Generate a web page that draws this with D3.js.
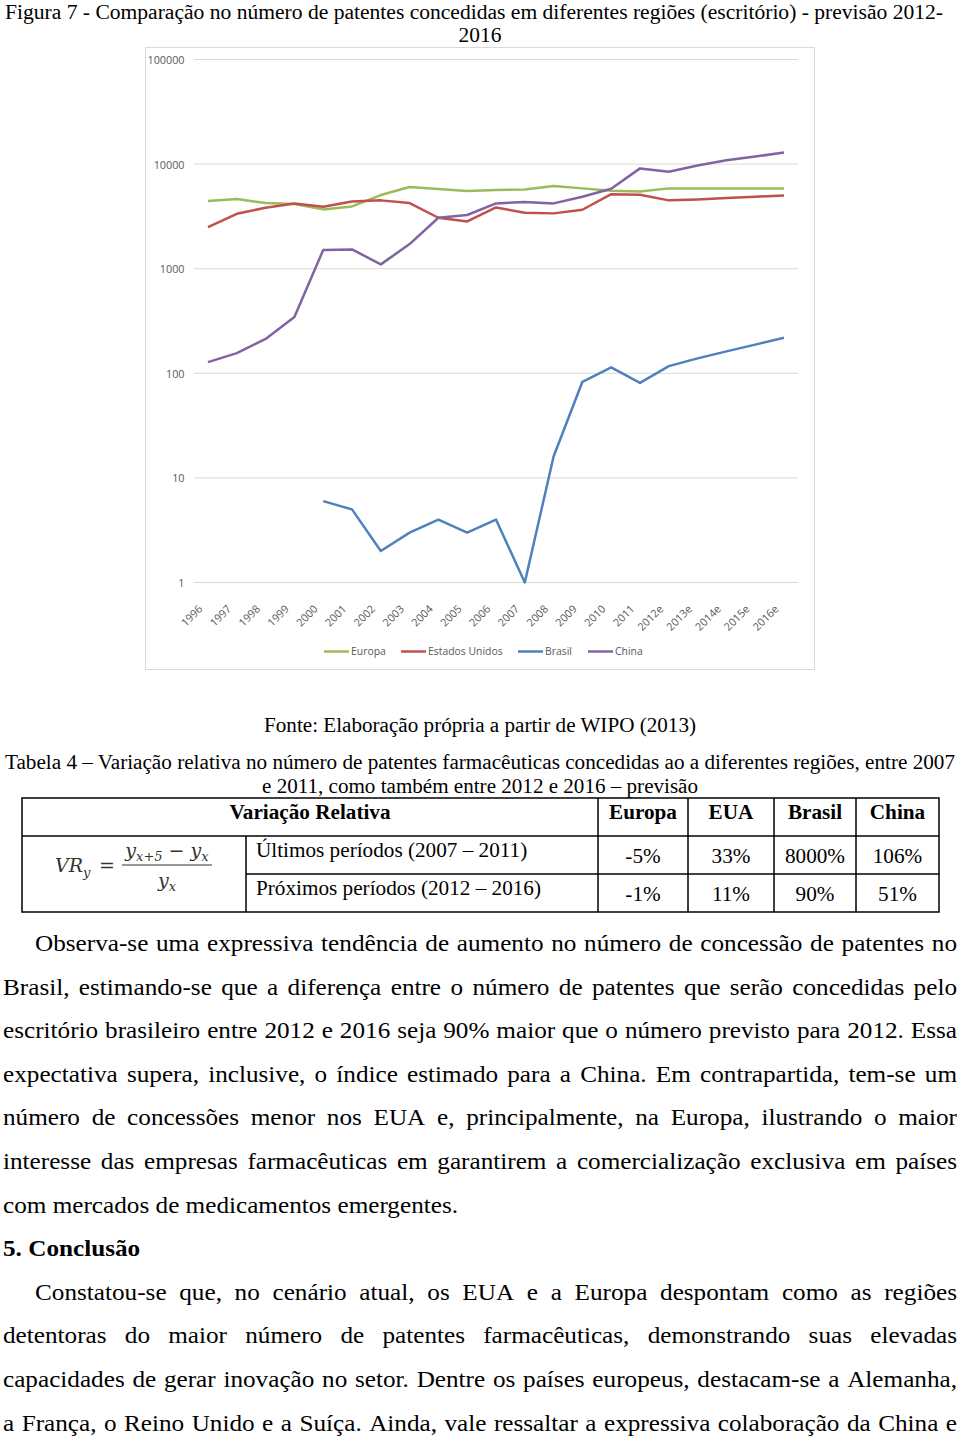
<!DOCTYPE html>
<html><head><meta charset="utf-8">
<script src="https://cdn.jsdelivr.net/npm/d3@7"></script>
<style>body{margin:0;background:#fff}svg{display:block}</style>
</head><body>
<script>
const years = ["1996","1997","1998","1999","2000","2001","2002","2003","2004","2005","2006","2007","2008","2009","2010","2011","2012e","2013e","2014e","2015e","2016e"];
const europa = [4430,4640,4240,4150,3690,3940,5060,6030,5770,5520,5650,5730,6170,5860,5560,5480,5860,5860,5860,5860,5860];
const estadosUnidos = [2500,3350,3830,4210,3910,4390,4500,4240,3070,2830,3850,3430,3380,3660,5160,5090,4500,4590,4730,4870,5020];
const brasil = [null,null,null,null,6,5,2,3,4,3,4,1,16,83,114,81,117,139,162,188,219];
const china = [128,156,213,345,1510,1530,1100,1720,3070,3260,4210,4330,4210,4880,5810,9100,8450,9710,10900,11800,12900];
const seriesNames = ["Europa","Estados Unidos","Brasil","China"];
const yTicks = [1,10,100,1000,10000,100000];

const tableHeader = ["Variação Relativa","Europa","EUA","Brasil","China"];
const rowLabels = ["Últimos períodos (2007 – 2011)","Próximos períodos (2012 – 2016)"];
const rowEuropa = ["-5%","-1%"];
const rowEUA = ["33%","11%"];
const rowBrasil = ["8000%","90%"];
const rowChina = ["106%","51%"];

const colors = ["#9bbb59","#c0504d","#4f81bd","#8064a2"];
const W = 960, H = 1438;
const svg = d3.select("body").append("svg").attr("width",W).attr("height",H);
svg.append("rect").attr("width",W).attr("height",H).attr("fill","#fff");

const serif = "'Liberation Serif','Times New Roman',serif";
const sans = "'Open Sans','Liberation Sans',sans-serif";

function fitText(txt, x, y, width, size, anchor, weight, stretch){
  const t = svg.append("text").attr("x",x).attr("y",y).attr("font-family",serif)
    .attr("font-size",size).attr("fill","#000").attr("text-anchor",anchor||"start")
    .attr("font-weight",weight||"normal").text(txt);
  let w = width;
  if(!w && stretch){ w = t.node().getComputedTextLength()*stretch; }
  if(w){ t.attr("textLength",w).attr("lengthAdjust","spacingAndGlyphs"); }
  return t;
}

// Title
fitText("Figura 7 - Comparação no número de patentes concedidas em diferentes regiões (escritório) -  previsão 2012-", 5, 19, 938, 20);
fitText("2016", 480, 42, null, 20, "middle", null, 1.07);

// Chart frame
svg.append("rect").attr("x",145.5).attr("y",47.5).attr("width",669).attr("height",622)
  .attr("fill","#fff").attr("stroke","#d9d9d9").attr("stroke-width",1);

const x = d3.scalePoint().domain(years).range([208,784]);
const y = d3.scaleLog().domain([1,100000]).range([582.5,59.5]);

const g = svg.append("g");
g.selectAll("line.grid").data(yTicks).join("line").attr("class","grid")
  .attr("x1",194).attr("x2",798).attr("y1",d=>y(d)).attr("y2",d=>y(d))
  .attr("stroke","#d9d9d9").attr("stroke-width",1);

const yAxis = d3.axisLeft(y).tickValues(yTicks).tickFormat(d3.format("d")).tickSize(0).tickPadding(0);
const ya = g.append("g").attr("transform","translate(184.5,0.5)").call(yAxis);
ya.select(".domain").remove();
ya.selectAll("text").attr("font-family",sans).attr("font-size",10.8).attr("fill","#595959");

const xAxis = d3.axisBottom(x).tickSize(0).tickPadding(0);
const xa = g.append("g").attr("transform","translate(0,600)").call(xAxis);
xa.select(".domain").remove();
xa.selectAll("text").attr("font-family",sans).attr("font-size",10.8).attr("fill","#595959")
  .attr("text-anchor","end").attr("dy","0.35em")
  .attr("transform","translate(-8,7) rotate(-45)");

const allSeries = [europa, estadosUnidos, brasil, china];
const line = d3.line().defined(d=>d.v!=null).x(d=>x(d.k)).y(d=>y(d.v));
allSeries.forEach((s,i)=>{
  g.append("path").datum(years.map((k,j)=>({k:k,v:s[j]})))
    .attr("d",line).attr("fill","none").attr("stroke",colors[i])
    .attr("stroke-width",2.5).attr("stroke-linejoin","round").attr("stroke-linecap","butt");
});

// Legend
const legX = [324,401,518,588];
const leg = g.append("g");
seriesNames.forEach((n,i)=>{
  leg.append("line").attr("x1",legX[i]).attr("x2",legX[i]+25).attr("y1",651.5).attr("y2",651.5)
    .attr("stroke",colors[i]).attr("stroke-width",2.5);
  leg.append("text").attr("x",legX[i]+27).attr("y",651.5).attr("dy","0.35em")
    .attr("font-family",sans).attr("font-size",10.4).attr("fill","#595959").text(n);
});

// Source and table caption
fitText("Fonte: Elaboração própria a partir de WIPO (2013)", 480, 732, 432, 20, "middle");
fitText("Tabela 4 – Variação relativa no número de patentes farmacêuticas concedidas ao a diferentes regiões, entre 2007", 5, 769, 950, 20);
fitText("e 2011, como também entre 2012 e 2016 – previsão", 480, 793, 436, 20, "middle");

// Table
const cols = [22,246,598,688,774,856,939];
const rows = [798,836,874,912];
const tg = svg.append("g").attr("stroke","#000").attr("stroke-width",1.5);
tg.append("rect").attr("x",cols[0]).attr("y",rows[0]).attr("width",cols[6]-cols[0]).attr("height",rows[3]-rows[0]).attr("fill","none");
tg.append("line").attr("x1",cols[0]).attr("x2",cols[6]).attr("y1",rows[1]).attr("y2",rows[1]);
tg.append("line").attr("x1",cols[1]).attr("x2",cols[6]).attr("y1",rows[2]).attr("y2",rows[2]);
tg.append("line").attr("x1",cols[1]).attr("x2",cols[1]).attr("y1",rows[1]).attr("y2",rows[3]);
[2,3,4,5].forEach(c=>tg.append("line").attr("x1",cols[c]).attr("x2",cols[c]).attr("y1",rows[0]).attr("y2",rows[3]));

const headCenters = [(cols[0]+cols[2])/2,(cols[2]+cols[3])/2,(cols[3]+cols[4])/2,(cols[4]+cols[5])/2,(cols[5]+cols[6])/2];
tableHeader.forEach((h,i)=>fitText(h, headCenters[i], 819, null, 20, "middle", "bold", 1.06));
rowLabels.forEach((l,i)=>fitText(l, 256, [857,895][i], null, 20, "start", null, 1.06));
[rowEuropa,rowEUA,rowBrasil,rowChina].forEach((arr,c)=>{
  arr.forEach((v,r)=>fitText(v, headCenters[c+1], [863,901][r], null, 20, "middle", null, 1.06));
});

// Formula
const fg = svg.append("g").attr("font-family","'DejaVu Serif',serif").attr("font-style","italic").attr("fill","#333");
const f1 = fg.append("text").attr("x",55).attr("y",872).attr("font-size",19);
f1.append("tspan").text("VR");
f1.append("tspan").attr("font-size",13).attr("dy",5).text("y");
fg.append("text").attr("x",99).attr("y",872).attr("font-size",19).attr("font-style","normal").text("=");
const num = fg.append("text").attr("x",167).attr("y",857).attr("font-size",19).attr("text-anchor","middle");
num.append("tspan").text("y");
num.append("tspan").attr("font-size",13).attr("dy",4).text("x+5");
num.append("tspan").attr("dy",-4).attr("font-style","normal").text(" − ");
num.append("tspan").text("y");
num.append("tspan").attr("font-size",13).attr("dy",4).text("x");
fg.append("line").attr("x1",122).attr("x2",212).attr("y1",865).attr("y2",865).attr("stroke","#333").attr("stroke-width",1.2);
const den = fg.append("text").attr("x",167).attr("y",887).attr("font-size",19).attr("text-anchor","middle");
den.append("tspan").text("y");
den.append("tspan").attr("font-size",13).attr("dy",4).text("x");

// Justified paragraph text (glyphs stretched horizontally to match the reference)
const bodySize = 22.3, bodyStretch = 1.13;
const probeA = svg.append("text").attr("font-family",serif).attr("font-size",bodySize).text("a a");
const probeB = svg.append("text").attr("font-family",serif).attr("font-size",bodySize).text("aa");
const spaceW = (probeA.node().getComputedTextLength() - probeB.node().getComputedTextLength())*bodyStretch;
probeA.remove(); probeB.remove();

function textLine(str, x0, x1, yb, justify, weight){
  const words = str.split(" ");
  const grp = svg.append("g").attr("font-family",serif).attr("font-size",bodySize).attr("fill","#000").attr("font-weight",weight||"normal");
  const nodes = words.map(w=>grp.append("text").attr("y",yb).text(w));
  const widths = nodes.map(n=>{
    const w = n.node().getComputedTextLength()*bodyStretch;
    n.attr("textLength",w).attr("lengthAdjust","spacingAndGlyphs");
    return w;
  });
  const total = d3.sum(widths);
  let gap = justify && words.length>1 ? (x1-x0-total)/(words.length-1) : spaceW;
  if(justify && gap < spaceW*0.6){
    // too tight: shrink glyphs slightly so the line still fits
    const k = (x1-x0-spaceW*0.6*(words.length-1))/total;
    widths.forEach((w,i)=>{ widths[i]=w*k; nodes[i].attr("textLength",widths[i]); });
    gap = spaceW*0.6;
  }
  let cx = x0;
  nodes.forEach((n,i)=>{ n.attr("x",cx); cx += widths[i]+gap; });
}
const para1 = [
  "Observa-se uma expressiva tendência de aumento no número de concessão de patentes no",
  "Brasil, estimando-se que a diferença entre o número de patentes que serão concedidas pelo",
  "escritório brasileiro entre 2012 e 2016 seja 90% maior que o número previsto para 2012. Essa",
  "expectativa supera, inclusive, o índice estimado para a China. Em contrapartida, tem-se um",
  "número de concessões menor nos EUA e, principalmente, na Europa, ilustrando o maior",
  "interesse das empresas farmacêuticas em garantirem a comercialização exclusiva em países",
  "com mercados de medicamentos emergentes."
];
const para2 = [
  "Constatou-se que, no cenário atual, os EUA e a Europa despontam como as regiões",
  "detentoras do maior número de patentes farmacêuticas, demonstrando suas elevadas",
  "capacidades de gerar inovação no setor. Dentre os países europeus, destacam-se a Alemanha,",
  "a França, o Reino Unido e a Suíça. Ainda, vale ressaltar a expressiva colaboração da China e"
];
const lh = 43.6;
para1.forEach((l,i)=>textLine(l, i===0?35:3, 957, 951+i*lh, i<para1.length-1));
textLine("5. Conclusão", 3, 957, 951+7*lh, false, "bold");
para2.forEach((l,i)=>textLine(l, i===0?35:3, 957, 951+(8+i)*lh, true));
</script>
</body></html>
